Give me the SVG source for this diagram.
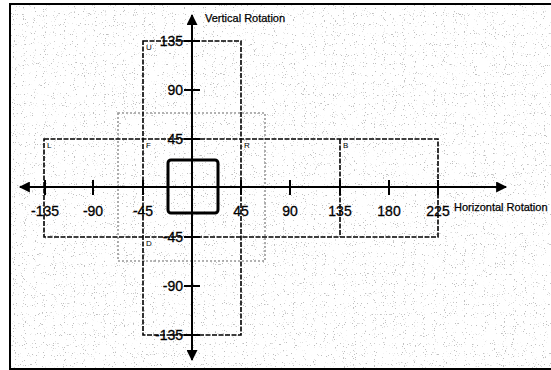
<svg xmlns="http://www.w3.org/2000/svg" width="551" height="370" viewBox="0 0 551 370">
<style>
.ax{stroke:#000;stroke-width:2;fill:none}
.tk{stroke:#000;stroke-width:2}
.box{stroke:#000;stroke-width:1.6;fill:none;stroke-dasharray:5 1.5}
.dot{stroke:#999;stroke-width:1.6;fill:none;stroke-dasharray:2 2}
.num{font-family:"Liberation Sans",Arial,sans-serif;font-size:14px;fill:#000;stroke:#000;stroke-width:0.3}
.lab{font-family:"Liberation Sans",Arial,sans-serif;font-size:11px;fill:#000;stroke:#000;stroke-width:0.25}
.sm{font-family:"Liberation Sans",Arial,sans-serif;font-size:8px;fill:#000}
</style>
<defs>
<filter id="noise" x="0" y="0" width="100%" height="100%">
<feTurbulence type="fractalNoise" baseFrequency="0.9" numOctaves="1" seed="3" result="t"/>
<feColorMatrix in="t" type="matrix" values="0 0 0 0 0.3  0 0 0 0 0.3  0 0 0 0 0.3  14 0 0 0 -9.2"/>
</filter>
<marker id="ah" viewBox="0 0 10 10" refX="9" refY="5" markerWidth="6" markerHeight="5.5" orient="auto" markerUnits="strokeWidth">
<path d="M0,0 L10,5 L0,10 z" fill="#000"/>
</marker>
</defs>
<rect x="0" y="0" width="551" height="370" fill="#fff"/>
<rect x="11" y="5" width="540" height="363" fill="#fff" filter="url(#noise)" opacity="0.6"/>
<path d="M551,4 H10 V369 H551" fill="none" stroke="#000" stroke-width="2"/>

<g id="dotted-region">
<rect class="dot" x="118" y="113" width="147" height="148"/>
</g>
<g id="vertical-band">
<rect class="box" x="143" y="41" width="98" height="294"/>
<text class="sm" x="146" y="50">U</text>
<text class="sm" x="146" y="246">D</text>
</g>
<g id="horizontal-band">
<rect class="box" x="44" y="139" width="394" height="98"/>
<line class="box" x1="340" y1="139" x2="340" y2="237"/>
<text class="sm" x="47" y="148">L</text>
<text class="sm" x="146" y="148">F</text>
<text class="sm" x="244" y="148">R</text>
<text class="sm" x="343" y="148">B</text>
</g>
<g id="center-square">
<rect x="168" y="160" width="50" height="53" rx="3" fill="none" stroke="#000" stroke-width="3"/>
</g>

<g id="axes">
<line class="ax" x1="20" y1="187" x2="506" y2="187" marker-end="url(#ah)"/>
<line class="ax" x1="192" y1="187" x2="20" y2="187" marker-end="url(#ah)"/>
<line class="ax" x1="192" y1="187" x2="192" y2="15" marker-end="url(#ah)"/>
<line class="ax" x1="192" y1="187" x2="192" y2="360" marker-end="url(#ah)"/>
<g class="tk">
<line x1="45" y1="180" x2="45" y2="195"/>
<line x1="93" y1="180" x2="93" y2="195"/>
<line x1="143" y1="180" x2="143" y2="195"/>
<line x1="241" y1="180" x2="241" y2="195"/>
<line x1="290" y1="180" x2="290" y2="195"/>
<line x1="340" y1="180" x2="340" y2="195"/>
<line x1="389" y1="180" x2="389" y2="195"/>
<line x1="438" y1="180" x2="438" y2="195"/>
<line x1="184" y1="41" x2="200" y2="41"/>
<line x1="184" y1="90" x2="200" y2="90"/>
<line x1="184" y1="139" x2="200" y2="139"/>
<line x1="184" y1="237" x2="200" y2="237"/>
<line x1="184" y1="286" x2="200" y2="286"/>
<line x1="184" y1="335" x2="200" y2="335"/>
</g>
<g class="num" text-anchor="middle">
<text x="45" y="216">-135</text>
<text x="93" y="216">-90</text>
<text x="143" y="216">-45</text>
<text x="241" y="216">45</text>
<text x="290" y="216">90</text>
<text x="340" y="216">135</text>
<text x="389" y="216">180</text>
<text x="438" y="216">225</text>
</g>
<g class="num" text-anchor="end">
<text x="183" y="46">135</text>
<text x="183" y="95">90</text>
<text x="183" y="144">45</text>
<text x="183" y="242">-45</text>
<text x="183" y="291">-90</text>
<text x="183" y="340">-135</text>
</g>
<text class="lab" x="205" y="22">Vertical Rotation</text>
<text class="lab" x="454" y="211">Horizontal Rotation</text>
</g>
</svg>
